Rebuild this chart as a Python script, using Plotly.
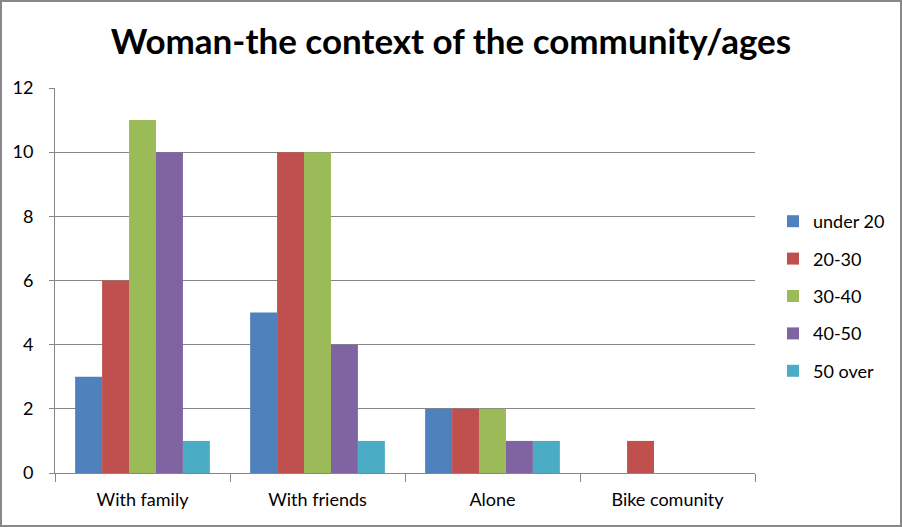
import plotly.graph_objects as go

categories = ["With family", "With friends", "Alone", "Bike comunity"]
series_names = ["under 20", "20-30", "30-40", "40-50", "50 over"]
under20 = [3, 5, 2, 0]
s20_30 = [6, 10, 2, 1]
s30_40 = [11, 10, 2, 0]
s40_50 = [10, 4, 1, 0]
over50 = [1, 1, 1, 0]
colors = ["#4F81BD", "#C0504D", "#9BBB59", "#8064A2", "#4BACC6"]
values = [under20, s20_30, s30_40, s40_50, over50]

W, H = 902, 527
L, R, T, B = 55, 147, 88, 54
font = "Lato, Open Sans, sans-serif"

fig = go.Figure()
for i, (name, vals) in enumerate(zip(series_names, values)):
    fig.add_trace(go.Bar(x=categories, y=vals, name=name, marker_color=colors[i],
                         marker_line_width=0, legendgroup=name))

pw, ph = W - L - R, H - T - B
def px_x(x): return (x - L) / pw
def px_y(y): return (H - B - y) / ph

fig.add_shape(type="rect", xref="paper", yref="paper",
              x0=px_x(1), x1=px_x(W - 1), y0=px_y(H - 1), y1=px_y(1),
              line=dict(color="#888888", width=2), layer="below")

fig.update_layout(
    width=W, height=H,
    margin=dict(l=L, r=R, t=T, b=B, autoexpand=False),
    paper_bgcolor="white", plot_bgcolor="white",
    barmode="group", bargap=0.23, bargroupgap=0,
    title=dict(text="<b>Woman-the context of the community/ages</b>",
               x=0.5, xref="container", xanchor="center", y=1 - 42 / H, yanchor="middle",
               font=dict(family=font, size=35, color="black")),
    font=dict(family=font, size=18, color="black"),
    showlegend=True,
    legend=dict(x=px_x(773), y=px_y(296), xanchor="left", yanchor="middle",
                font=dict(size=18), tracegroupgap=11, traceorder="grouped",
                itemwidth=30, bgcolor="rgba(0,0,0,0)"),
    xaxis=dict(showline=True, linecolor="#868686", linewidth=1,
               ticks="outside", tickson="boundaries", ticklen=8, tickcolor="#868686",
               tickfont=dict(size=18), showgrid=False, ticklabelstandoff=10),
    yaxis=dict(range=[0, 12], dtick=2, showline=True, linecolor="#868686", linewidth=1,
               ticks="outside", ticklen=5, tickcolor="#868686",
               gridcolor="#868686", gridwidth=1, zeroline=False,
               tickfont=dict(size=18), ticklabelstandoff=12),
)
fig.write_html("out.html", config={"displayModeBar": False},
               post_script="document.body.style.margin='0';"
                           "document.body.style.overflow='hidden';"
                           "document.documentElement.style.overflow='hidden';")
